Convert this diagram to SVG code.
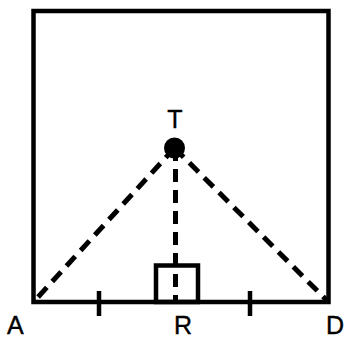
<svg xmlns="http://www.w3.org/2000/svg" width="346" height="339" viewBox="0 0 346 339">
<style>
.s{fill:none;stroke:#000;stroke-width:4.5}
.d{fill:none;stroke:#000;stroke-width:5;stroke-dasharray:13 8}
.t{font-family:"Liberation Sans",Arial,sans-serif;font-size:25px;fill:#000;stroke:#000;stroke-width:0.4}
</style>
<rect width="346" height="339" fill="#fff"/>
<g id="square"><rect class="s" x="33.5" y="11" width="295" height="291"/></g>
<g id="connectors">
<line class="d" x1="174.5" y1="148" x2="33.5" y2="302"/>
<line class="d" x1="174.5" y1="148" x2="328.5" y2="302"/>
<line class="d" x1="175.5" y1="148" x2="175.5" y2="302"/>
<line class="s" x1="99" y1="291" x2="99" y2="316"/>
<line class="s" x1="250" y1="291" x2="250" y2="316"/>
<rect class="s" x="156" y="265.5" width="42" height="36.5"/>
</g>
<g id="T"><circle cx="174.5" cy="148" r="10.5"/><text class="t" x="175" y="128" text-anchor="middle">T</text></g>
<g id="A"><text class="t" x="7" y="334">A</text></g>
<g id="R"><text class="t" x="174" y="334">R</text></g>
<g id="D"><text class="t" x="326" y="334">D</text></g>
</svg>
